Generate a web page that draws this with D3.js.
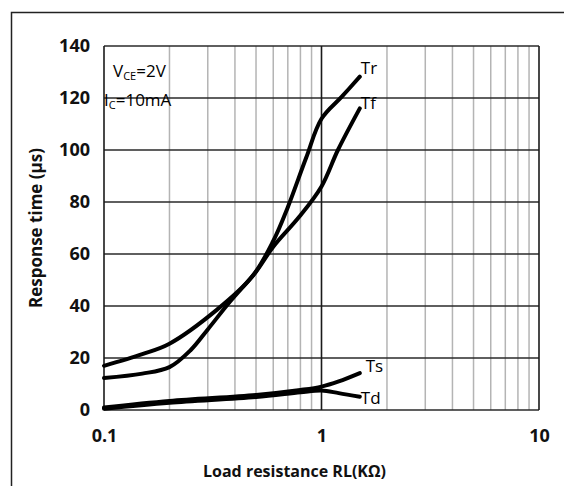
<!DOCTYPE html>
<html>
<head>
<meta charset="utf-8">
<script src="https://cdn.jsdelivr.net/npm/d3@7"></script>
<style>
  body { margin: 0; background: #fff; }
  text { font-family: 'Open Sans', sans-serif; }
</style>
</head>
<body>
<script>
// load resistance (kΩ) vs response time (µs)
const trData = [[0.1, 17], [0.15, 21.5], [0.2, 25.5], [0.33, 38.5], [0.48, 51.3], [0.6, 65], [0.7, 78], [0.85, 97], [1.0, 112], [1.24, 120.5], [1.5, 128.2]];
const tfData = [[0.1, 12.3], [0.15, 14], [0.2, 16.5], [0.25, 23], [0.3, 31], [0.38, 41.7], [0.5, 53.2], [0.6, 62.8], [0.79, 74.3], [1.0, 86], [1.19, 100], [1.5, 116]];
const tsData = [[0.1, 1], [0.2, 3.5], [0.5, 5.8], [0.8, 7.7], [1.0, 9], [1.2, 11], [1.5, 14.2]];
const tdData = [[0.1, 0.5], [0.2, 2.8], [0.5, 5], [0.8, 6.8], [1.0, 7.5], [1.2, 6.5], [1.5, 5.1]];

const curveNames = ['Tr', 'Tf', 'Ts', 'Td'];
const yTicks = [0, 20, 40, 60, 80, 100, 120, 140];
const xTicks = [0.1, 1, 10];

const width = 564;
const height = 486;
const margin = { top: 46, right: 25, bottom: 76, left: 104 };

const svg = d3.select('body')
  .append('svg')
  .attr('width', width)
  .attr('height', height);

// outer frame (cropped on right and bottom)
svg.append('path')
  .attr('d', `M11.5,${height} V12.5 H${width}`)
  .attr('fill', 'none')
  .attr('stroke', '#222')
  .attr('stroke-width', 1.5);

const x = d3.scaleLog()
  .domain([0.1, 10])
  .range([margin.left, width - margin.right]);

const y = d3.scaleLinear()
  .domain([0, 140])
  .range([height - margin.bottom, margin.top]);

const grid = svg.append('g');

// minor vertical grid
const minor = [];
[0.1, 1].forEach(dec => {
  for (let k = 2; k <= 9; k++) minor.push(dec * k);
});

grid.selectAll('.minor')
  .data(minor)
  .join('line')
  .attr('x1', d => x(d))
  .attr('x2', d => x(d))
  .attr('y1', y(0))
  .attr('y2', y(140))
  .attr('stroke', '#b4b4b4')
  .attr('stroke-width', 1.5);

// horizontal grid
grid.selectAll('.hline')
  .data(yTicks)
  .join('line')
  .attr('x1', x(0.1))
  .attr('x2', x(10))
  .attr('y1', d => y(d))
  .attr('y2', d => y(d))
  .attr('stroke', '#2a2a2a')
  .attr('stroke-width', 1.6);

// major vertical lines
grid.selectAll('.major')
  .data(xTicks)
  .join('line')
  .attr('x1', d => x(d))
  .attr('x2', d => x(d))
  .attr('y1', y(0))
  .attr('y2', y(140))
  .attr('stroke', '#1a1a1a')
  .attr('stroke-width', 1.6);

// axes (labels only)
const yAxis = svg.append('g')
  .attr('transform', `translate(${margin.left}, 0)`)
  .call(d3.axisLeft(y).tickValues(yTicks).tickSize(0).tickPadding(14));

const xAxis = svg.append('g')
  .attr('transform', `translate(0, ${y(0)})`)
  .call(d3.axisBottom(x).tickValues(xTicks).tickFormat(d => d).tickSize(0).tickPadding(19));

[yAxis, xAxis].forEach(ax => {
  ax.select('.domain').remove();
  ax.selectAll('text')
    .attr('font-family', "'Open Sans', sans-serif")
    .attr('font-weight', 'bold')
    .attr('font-size', 18)
    .attr('fill', '#111');
});

// curves
const line = d3.line()
  .x(d => x(d[0]))
  .y(d => y(d[1]))
  .curve(d3.curveCatmullRom.alpha(0.5));

const plot = svg.append('g');
[trData, tfData, tsData, tdData].forEach(s => {
  plot.append('path')
    .attr('d', line(s))
    .attr('fill', 'none')
    .attr('stroke', '#000')
    .attr('stroke-width', 4)
    .attr('stroke-linecap', 'round');
});

// curve labels
const labelPos = [[1.5, 128.2, 0, -7], [1.5, 116, 0, -4], [1.58, 14.2, 0, -6], [1.5, 5.1, 0, 3]];
svg.selectAll('.clabel')
  .data(curveNames)
  .join('text')
  .attr('x', (d, i) => x(labelPos[i][0]) + 1 + labelPos[i][2])
  .attr('y', (d, i) => y(labelPos[i][1]) + labelPos[i][3])
  .attr('font-size', 17)
  .attr('fill', '#000')
  .attr('dominant-baseline', 'middle')
  .text(d => d);

// conditions
const cond = svg.append('g').attr('font-size', 17).attr('fill', '#000');
const t1 = cond.append('text').attr('x', 113).attr('y', 77);
t1.append('tspan').text('V');
t1.append('tspan').attr('font-size', 11).attr('dy', 3).text('CE');
t1.append('tspan').attr('dy', -3).text('=2V');
const t2 = cond.append('text').attr('x', 104).attr('y', 106);
t2.append('tspan').text('I');
t2.append('tspan').attr('font-size', 11).attr('dy', 3).text('C');
t2.append('tspan').attr('dy', -3).text('=10mA');

// axis titles
svg.append('text')
  .attr('x', (x(0.1) + x(10)) / 2 - 27)
  .attr('y', 477)
  .attr('text-anchor', 'middle')
  .attr('font-weight', 'bold')
  .attr('font-size', 16)
  .attr('fill', '#111')
  .text('Load resistance RL(KΩ)');

svg.append('text')
  .attr('transform', `translate(42, ${(y(0) + y(140)) / 2}) rotate(-90)`)
  .attr('text-anchor', 'middle')
  .attr('font-weight', 'bold')
  .attr('font-size', 17)
  .attr('fill', '#111')
  .text('Response time (µs)');
</script>
</body>
</html>
